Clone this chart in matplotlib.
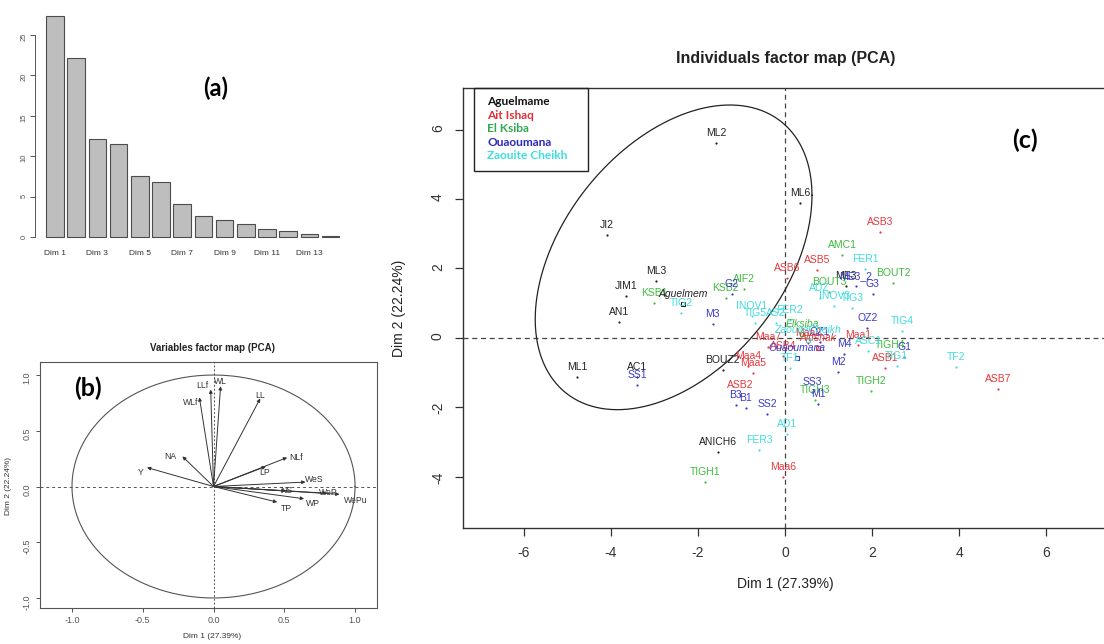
import matplotlib.pyplot as plt
from matplotlib.patches import Rectangle
import numpy as np

plt.rcParams['font.family'] = ['Liberation Sans', 'DejaVu Sans']
plt.rcParams['axes.unicode_minus'] = False

W, H = 1104, 644


def fig_box(left, top, right, bottom):
    # pixel box -> figure fraction [l, b, w, h]
    return [left / W, 1 - bottom / H, (right - left) / W, (bottom - top) / H]


def fig_xy(x, y):
    return x / W, 1 - y / H


# ---------------- (a) eigenvalues (% of variance) ----------------
dim_labels = ['Dim %d' % i for i in range(1, 15)]
eig_percent = [27.4, 22.2, 12.1, 11.5, 7.5, 6.8, 4.1, 2.6, 2.1, 1.6, 1.0, 0.7, 0.35, 0.15]

# ---------------- (b) variables (correlation circle) ----------------
var_names = ['Y', 'NA', 'WLf', 'LLf', 'WL', 'LL', 'NLf', 'LP', 'WeS', 'NS', 'WeP', 'WePu', 'WP', 'TP']
var_dim1 = [-0.47, -0.22, -0.10, -0.02, 0.05, 0.33, 0.52, 0.37, 0.65, 0.51, 0.80, 0.89, 0.64, 0.45]
var_dim2 = [0.17, 0.27, 0.80, 0.87, 0.90, 0.79, 0.26, 0.18, 0.04, -0.04, -0.06, -0.07, -0.11, -0.14]
var_label_offsets = [(-6, -5), (-12, 0), (-9, -5), (-8, 4), (0, 5), (0, 3), (9, 0), (-1, -6),
                     (9, 3), (1, 0), (2, 1), (16, -6), (9, -5), (9, -6)]

# ---------------- (c) individuals ----------------
groups = ['Aguelmame', 'Ait Ishaq', 'El Ksiba', 'Ouaoumana', 'Zaouite Cheikh']

ind_names = ['ML2', 'ML6', 'JI2', 'ML3', 'JIM1', 'AN1', 'ML1', 'AC1', 'BOUZ2', 'ANICH6', 'ME3',
             'ASB3', 'ASB5', 'ASB6', 'Maa7', 'ASB4', 'Maa1', 'Maa4', 'Maa5', 'ASB2', 'ASB1', 'ASB7', 'Maa6', 'Maa2',
             'AMC1', 'BOUT2', 'BOUT3', 'AIF2', 'KSB2', 'KSB1', 'TIGH4', 'TIGH2', 'TIGH3', 'TIGH1',
             'G2', 'M3', 'G3', 'ME3_2', 'OZ2', 'OZ1', 'M4', 'M2', 'G1', 'SS3', 'M1', 'SS2', 'B3', 'B1', 'SS1',
             'FER1', 'ADZ', 'INOV3', 'TIG3', 'TIG4', 'TIG1', 'TF2', 'ASC1', 'INOV1', 'TIG5', 'AS2', 'FER2',
             'TIG2', 'TF1', 'AD1', 'FER3']
ind_dim1 = [-1.59, 0.34, -4.09, -2.97, -3.66, -3.82, -4.78, -3.40, -1.43, -1.54, 1.40,
            2.18, 0.74, 0.05, -0.39, -0.05, 1.68, -0.85, -0.74, -1.03, 2.30, 4.90, -0.05, 0.53,
            1.31, 2.48, 1.01, -0.94, -1.36, -3.01, 2.41, 1.98, 0.69, -1.84,
            -1.22, -1.66, 2.02, 1.63, 1.89, 0.80, 1.36, 1.22, 2.74, 0.62, 0.76, -0.41, -1.13, -0.90, -3.40,
            1.84, 0.80, 1.13, 1.54, 2.69, 2.57, 3.93, 1.91, -0.76, -0.69, -0.21, 0.11,
            -2.39, 0.11, 0.05, -0.60]
ind_dim2 = [5.62, 3.89, 2.97, 1.64, 1.21, 0.46, -1.12, -1.12, -0.92, -3.29, 1.50,
            3.05, 1.96, 1.73, -0.26, -0.52, -0.20, -0.81, -1.01, -1.64, -0.86, -1.47, -4.01, -0.14,
            2.39, 1.58, 1.33, 1.41, 1.15, 1.01, -0.49, -1.53, -1.79, -4.15,
            1.27, 0.40, 1.27, 1.50, 0.29, -0.12, -0.46, -0.98, -0.55, -1.56, -1.90, -2.19, -1.93, -2.02, -1.35,
            1.99, 1.15, 0.92, 0.86, 0.20, -0.81, -0.84, -0.37, 0.63, 0.43, 0.43, 0.52,
            0.72, -0.86, -2.77, -3.23]
ind_group = [0] * 11 + [1] * 13 + [2] * 10 + [3] * 15 + [4] * 16

centroid_names = ['Aguelmem', 'AitIshak', 'Elksiba', 'Ouaoumana', 'ZaouiteCheikh']
centroid_dim1 = [-2.34, 0.76, 0.39, 0.28, 0.53]
centroid_dim2 = [0.98, -0.29, 0.12, -0.58, -0.06]

# confidence ellipse for Aguelmame: centre, half extents, phase (deg)
ell_center = (-2.56, 2.32)
ell_half = (3.18, 4.39)
ell_phase = 66

point_colors = ['#222222', '#e8383d', '#3dbb3d', '#3a3acc', '#40dede']
legend_colors = ['#111111', '#e0303a', '#2fa84f', '#2a2ab8', '#3cdede']

fig = plt.figure(figsize=(W / 100, H / 100), dpi=100)

# ================= panel (a) =================
axa = fig.add_axes(fig_box(35, 10, 345, 240))
xpos = np.arange(len(eig_percent))
axa.bar(xpos, eig_percent, width=0.833, color='#bebebe', edgecolor='#4d4d4d', linewidth=0.8)
axa.set_xlim(-0.94, 13.68)
axa.set_ylim(-0.37, 28.1)
for s in ['top', 'right', 'bottom']:
    axa.spines[s].set_visible(False)
axa.spines['left'].set_bounds(0, 25)
axa.spines['left'].set_color('#555555')
axa.spines['left'].set_linewidth(0.7)
axa.set_yticks([0, 5, 10, 15, 20, 25])
axa.tick_params(axis='y', length=3.5, width=0.7, colors='#555555', labelsize=5.5, pad=2, labelrotation=90)
axa.set_xticks(xpos[::2])
axa.set_xticklabels(dim_labels[::2])
axa.tick_params(axis='x', length=0, labelsize=6, pad=7, labelcolor='#333333')
fig.text(*fig_xy(216, 88), '(a)', fontsize=17, fontweight='bold', family='Lato', ha='center', va='center')

# ================= panel (b) =================
axb = fig.add_axes(fig_box(40, 362, 377, 608))
t = np.linspace(0, 2 * np.pi, 300)
axb.plot(np.cos(t), np.sin(t), color='#555555', lw=0.8)
axb.axhline(0, color='#555555', lw=0.7, ls=(0, (3, 3)))
axb.axvline(0, color='#555555', lw=0.7, ls=(0, (2, 2)))
for name, x, y, off in zip(var_names, var_dim1, var_dim2, var_label_offsets):
    axb.annotate('', xy=(x, y), xytext=(0, 0),
                 arrowprops=dict(arrowstyle='-|>', color='#333333', lw=0.7,
                                 shrinkA=0, shrinkB=0, mutation_scale=5))
    axb.annotate(name, (x, y), xytext=off, textcoords='offset pixels',
                 ha='center', va='center', fontsize=6.2, color='#333333')
axb.set_xlim(-1.226, 1.155)
axb.set_ylim(-1.09, 1.117)
axb.set_xticks([-1.0, -0.5, 0.0, 0.5, 1.0])
axb.set_yticks([-1.0, -0.5, 0.0, 0.5, 1.0])
for s in axb.spines.values():
    s.set_color('#555555')
    s.set_linewidth(0.8)
axb.tick_params(axis='both', length=3, width=0.7, colors='#555555', labelsize=6.5, pad=3)
axb.tick_params(axis='y', labelrotation=90)
fig.text(*fig_xy(212, 348), 'Variables factor map (PCA)', fontsize=7, fontweight='bold',
         ha='center', va='center', color='#222222')
fig.text(*fig_xy(212, 636), 'Dim 1 (27.39%)', fontsize=6, ha='center', va='center', color='#333333')
fig.text(*fig_xy(9, 486), 'Dim 2 (22.24%)', fontsize=6, ha='center', va='center',
         rotation=90, color='#333333')
fig.text(*fig_xy(88, 388), '(b)', fontsize=18, fontweight='bold', family='Lato', ha='center', va='center')

# ================= panel (c) =================
axc = fig.add_axes(fig_box(463, 88, 1107, 528))
axc.axhline(0, color='#444444', lw=0.9, ls=(0, (4, 3)))
axc.axvline(0, color='#444444', lw=0.9, ls=(0, (4, 3)))

tt = np.linspace(0, 2 * np.pi, 300)
ph = np.deg2rad(ell_phase)
axc.plot(ell_center[0] + ell_half[0] * np.cos(tt),
         ell_center[1] + ell_half[1] * np.cos(tt - ph), color='#222222', lw=0.9)

for name, x, y, g in zip(ind_names, ind_dim1, ind_dim2, ind_group):
    c = point_colors[g]
    axc.plot(x, y, 'o', ms=1.6, color=c, mec='none')
    axc.annotate(name, (x, y), xytext=(0, 10), textcoords='offset pixels',
                 ha='center', va='center', fontsize=7.5, color=c)

for g, (name, x, y) in enumerate(zip(centroid_names, centroid_dim1, centroid_dim2)):
    c = point_colors[g]
    axc.plot(x, y, 's', ms=3.5, mfc='none', mec=c, mew=0.8)
    axc.annotate(name, (x, y), xytext=(0, 10), textcoords='offset pixels',
                 ha='center', va='center', fontsize=7.5, color=c, style='italic')

axc.set_xlim(-7.40, 7.40)
axc.set_ylim(-5.48, 7.20)
axc.set_xticks([-6, -4, -2, 0, 2, 4, 6])
axc.set_yticks([-4, -2, 0, 2, 4, 6])
for s in axc.spines.values():
    s.set_color('#333333')
    s.set_linewidth(1.0)
axc.tick_params(axis='both', length=6, width=0.9, colors='#333333', labelsize=10, pad=7)
axc.tick_params(axis='y', labelrotation=90)
axc.set_xlabel('Dim 1 (27.39%)', fontsize=10, labelpad=12, color='#222222')
axc.set_ylabel('Dim 2 (22.24%)', fontsize=10, labelpad=18, color='#222222')

# legend box
fig.patches.append(Rectangle(fig_xy(474, 171), (588 - 474) / W, (171 - 88) / H,
                             transform=fig.transFigure, fill=False, edgecolor='#222222', lw=1.0))
for i, (gname, col) in enumerate(zip(groups, legend_colors)):
    fig.text(*fig_xy(487, 101.5 + 13.6 * i), gname, fontsize=8.6, fontweight='bold',
             family='Lato', color=col, ha='left', va='center')

fig.text(*fig_xy(786, 58), 'Individuals factor map (PCA)', fontsize=11.5, fontweight='bold',
         ha='center', va='center', color='#222222')
fig.text(*fig_xy(1025, 140), '(c)', fontsize=18, fontweight='bold', family='Lato', ha='center', va='center')

fig.savefig('out.png', dpi=100)
